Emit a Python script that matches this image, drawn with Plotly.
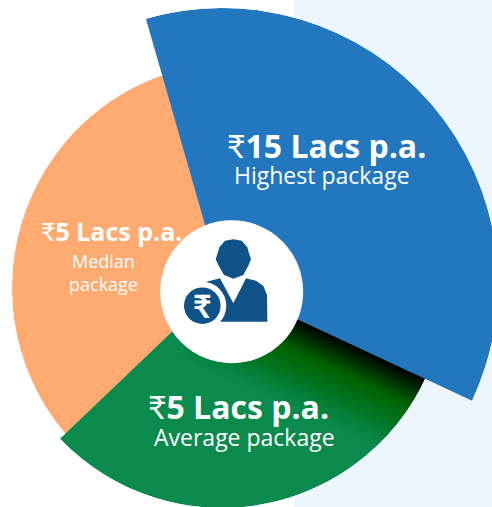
import math
import plotly.graph_objects as go

# ---- data ----
sector_names = ["Median package", "Average package", "Highest package"]
sector_starts = [222, 113, -16]     # degrees clockwise from north
sector_spans = [128, 113.3, 131]
sector_radii = [226, 224, 276]
sector_colors = ["#FFAA70", "#0A8A4C", "#2277BE"]
RUPEE = '<span style="font-family:Lato">₹</span>'
amount_labels = [RUPEE + "<b>5 Lacs p.a.</b>", RUPEE + "<b>5 Lacs p.a.</b>", RUPEE + "<b>15 Lacs p.a.</b>"]

W, H = 500, 520
BLUE_NAVY = "#0E5288"
FONT = "Open Sans"


def domain(cx, cy, r, a0, a1):
    pts = [(0, 0),
           (math.cos(math.radians(a0)), math.sin(math.radians(a0))),
           (math.cos(math.radians(a1)), math.sin(math.radians(a1)))]
    for q in range(-4, 9):
        if a0 <= q * 90 <= a1:
            pts.append((math.cos(math.radians(q * 90)), math.sin(math.radians(q * 90))))
    xs = [p[0] for p in pts]
    ys = [p[1] for p in pts]
    x = [(cx + r * min(xs)) / W, (cx + r * max(xs)) / W]
    y = [1 - (cy - r * min(ys)) / H, 1 - (cy - r * max(ys)) / H]
    return x, y


def lerp(a, b, t):
    return tuple(round(a[i] + (b[i] - a[i]) * t) for i in range(3))


def shade_color(d):
    black, dark, green = (0, 0, 0), (0, 98, 0), (10, 138, 76)
    c = lerp(black, dark, d / 30) if d < 30 else lerp(dark, green, min(1, (d - 30) / 50))
    return "rgb(%d,%d,%d)" % c


# gradient on the green slice: small polar cells shaded by distance from the blue edge
cell_r, cell_b, cell_t, cell_c = [], [], [], []
EDGE = sector_starts[2] + sector_spans[2]
ring = 60
while ring < sector_radii[1]:
    top = min(ring + 3, sector_radii[1])
    th = EDGE
    while th < EDGE + 95:
        d = (ring + top) / 2 * math.sin(math.radians(th + 0.5 - EDGE))
        if d < 82:
            cell_b.append(ring)
            cell_r.append(top - ring)
            cell_t.append(th + 0.5)
            cell_c.append(shade_color(d))
        th += 1
    ring = top

fig = go.Figure()
fig.add_trace(go.Barpolar(
    r=sector_radii[:1],
    theta=[sector_starts[0] + sector_spans[0] / 2],
    width=sector_spans[:1],
    marker=dict(color=sector_colors[:1], line=dict(width=0)),
    text=sector_names[:1], hoverinfo="text", subplot="polar",
))
fig.add_trace(go.Barpolar(
    r=sector_radii[1:2],
    theta=[sector_starts[1] + sector_spans[1] / 2],
    width=sector_spans[1:2],
    marker=dict(color=sector_colors[1:2], line=dict(width=0)),
    text=sector_names[1:2], hoverinfo="text", subplot="polar2",
))
fig.add_trace(go.Barpolar(
    r=cell_r, base=cell_b, theta=cell_t, width=[1] * len(cell_t),
    marker=dict(color=cell_c, line=dict(width=0.7, color=cell_c)),
    hoverinfo="skip", subplot="polar2",
))
fig.add_trace(go.Barpolar(
    r=sector_radii[2:],
    theta=[sector_starts[2] + sector_spans[2] / 2],
    width=sector_spans[2:],
    marker=dict(color=sector_colors[2:], line=dict(width=0)),
    text=sector_names[2:], hoverinfo="text", subplot="polar3",
))

S1, S2, S3 = [98, 350], [-140, -20], [-26, 107]
d1x, d1y = domain(238, 288, 226, *S1)
d2x, d2y = domain(222, 284, 224, *S2)
d3x, d3y = domain(222, 284, 276, *S3)
polar_common = dict(
    bgcolor="rgba(0,0,0,0)",
    angularaxis=dict(visible=False, rotation=90, direction="clockwise"),
)
fig.update_layout(
    width=W, height=H, autosize=False, showlegend=False,
    margin=dict(l=0, r=0, t=0, b=0),
    paper_bgcolor="white", plot_bgcolor="white",
    polar=dict(domain=dict(x=d1x, y=d1y), sector=S1,
               radialaxis=dict(visible=False, range=[0, sector_radii[0]]), **polar_common),
    polar2=dict(domain=dict(x=d2x, y=d2y), sector=S2,
                radialaxis=dict(visible=False, range=[0, sector_radii[1]]), **polar_common),
    polar3=dict(domain=dict(x=d3x, y=d3y), sector=S3,
                radialaxis=dict(visible=False, range=[0, sector_radii[2]]), **polar_common),
)


def X(px):
    return px / W


def Y(py):
    return 1 - py / H


def P(points):
    return "M" + " L".join("%.4f,%.4f" % (X(a), Y(b)) for a, b in points) + " Z"


def zoom_pts(pts):
    return [(150 + a / 3, 210 + b / 3) for a, b in pts]


def circle(cx, cy, r, color, layer="above"):
    return dict(type="circle", xref="paper", yref="paper", layer=layer,
                x0=X(cx - r), x1=X(cx + r), y0=Y(cy + r), y1=Y(cy - r),
                fillcolor=color, line=dict(width=0))


body = zoom_pts([(170, 215), (210, 205), (250, 280), (288, 205), (318, 212), (340, 228),
                 (351, 255), (352, 335), (210, 335)])
head = zoom_pts([(250, 88), (275, 92), (292, 112), (297, 130), (303, 148), (296, 165), (280, 195),
                 (250, 206), (222, 195), (205, 165), (197, 148), (203, 130), (208, 112), (225, 92)])

shapes = [
    dict(type="rect", xref="paper", yref="paper", layer="below",
         x0=X(294), x1=1, y0=0, y1=1, fillcolor="#EEF6FD", line=dict(width=0)),
    circle(231.7, 291.7, 71.5, "white"),
    dict(type="path", xref="paper", yref="paper", path=P(body), fillcolor=BLUE_NAVY, line=dict(width=0)),
    dict(type="path", xref="paper", yref="paper", path=P(head), fillcolor=BLUE_NAVY, line=dict(width=0)),
    circle(202.3, 305.7, 24, "white"),
    circle(202.3, 305.7, 18.3, BLUE_NAVY),
]
fig.update_layout(shapes=shapes)


def text(t, x, y, size, font=FONT):
    fig.add_annotation(text=t, xref="paper", yref="paper", x=X(x), y=Y(y), showarrow=False,
                       xanchor="center", yanchor="middle",
                       font=dict(family=font, size=size, color="white"))


text(amount_labels[2], 326, 145, 32)
text(sector_names[2], 321.5, 175, 23)
text(amount_labels[0], 111.5, 231, 25)
text("Median", 103, 261, 18)
text("package", 103, 284, 18)
text(amount_labels[1], 238.5, 406, 32)
text(sector_names[1], 244, 437, 23)
text("<b>₹</b>", 202.3, 305, 32, font="Lato")

fig.write_html("out.html", config=dict(displayModeBar=False),
               post_script="document.body.style.margin='0';document.documentElement.style.overflow='hidden';document.body.style.overflow='hidden';")
